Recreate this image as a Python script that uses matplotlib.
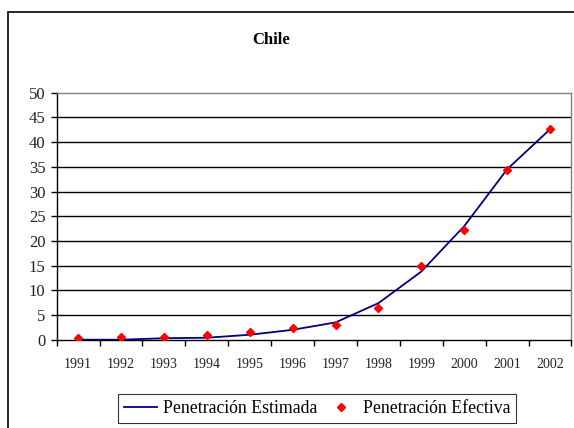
import matplotlib
matplotlib.use("Agg")
import matplotlib.pyplot as plt
from matplotlib.patches import Rectangle
import numpy as np

years = ["1991", "1992", "1993", "1994", "1995", "1996", "1997", "1998", "1999", "2000", "2001", "2002"]
estimada = [0.0, 0.0, 0.3, 0.4, 1.0, 2.0, 3.5, 7.4, 13.8, 23.0, 34.5, 42.6]
efectiva = [0.3, 0.6, 0.5, 0.9, 1.5, 2.4, 3.0, 6.4, 14.9, 22.3, 34.3, 42.7]
yticks = [0, 5, 10, 15, 20, 25, 30, 35, 40, 45, 50]

plt.rcParams['font.family'] = ['Liberation Serif', 'DejaVu Serif']

W, H = 574, 428
fig = plt.figure(figsize=(W / 100, H / 100), dpi=100)

# outer chart frame
fig.patches.append(Rectangle((8 / W, -0.01), 1.0, 1 - 12 / H + 0.01, transform=fig.transFigure,
                             fill=False, edgecolor='black', linewidth=1.2))

fig.text(271.5 / W, 1 - 40 / H, "Chile", ha='center', va='center',
         fontsize=12, fontweight='bold')

x0, x1 = 56.7, 571.5
yb, yt = 339.7, 92.7
ax = fig.add_axes([x0 / W, 1 - yb / H, (x1 - x0) / W, (yb - yt) / H])

x = np.arange(len(years))
ax.plot(x, estimada, color='#000080', linewidth=1.3, label='Penetración Estimada', zorder=3)
ax.plot(x, efectiva, linestyle='none', marker='D', markersize=4.5, color='#ff0000',
        label='Penetración Efectiva', zorder=4)

ax.set_xlim(-0.5, len(years) - 0.5)
ax.set_ylim(0, 50)
ax.set_yticks(yticks)
ax.set_yticklabels([str(v) for v in yticks], fontsize=12, color='#222222')
ax.set_xticks(x)
ax.set_xticklabels(years, fontsize=10, color='#222222')
ax.set_xticks(np.arange(-0.5, len(years) + 0.5, 1), minor=True)
ax.tick_params(axis='x', which='major', length=0, pad=13)
ax.tick_params(axis='x', which='minor', length=4, width=1, direction='out', color='black')
ax.tick_params(axis='y', length=4, width=1, direction='out', pad=4)

for v in yticks[1:-1]:
    ax.axhline(v, color='black', linewidth=1.0, zorder=1)

ax.spines['left'].set_color('black')
ax.spines['bottom'].set_color('black')
ax.spines['top'].set_color('#808080')
ax.spines['right'].set_color('#808080')
for s in ax.spines.values():
    s.set_linewidth(1.0)

leg = fig.legend(loc='upper left', bbox_to_anchor=(118 / W, 1 - 394 / H),
                 ncol=2, fontsize=12.8, frameon=True, fancybox=False,
                 handlelength=1.86, handletextpad=0.3, columnspacing=0.4,
                 borderaxespad=0.0, borderpad=0.35)
leg.get_frame().set_edgecolor('black')
leg.get_frame().set_linewidth(0.8)

fig.savefig("out.png", dpi=100)
